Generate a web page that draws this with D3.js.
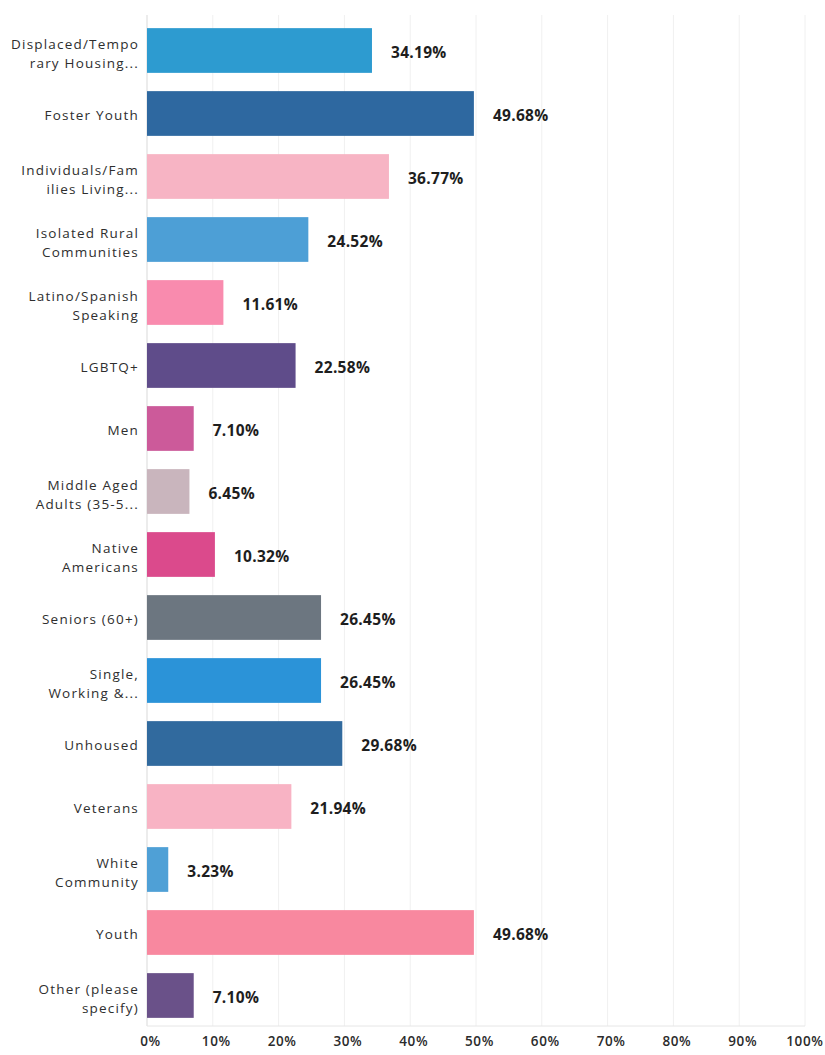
<!DOCTYPE html>
<html>
<head>
<meta charset="utf-8">
<script src="https://cdn.jsdelivr.net/npm/d3@7"></script>
<style>
  html, body { margin: 0; padding: 0; background: #fff; }
  svg { display: block; }
</style>
</head>
<body>
<svg id="chart" width="825" height="1055"></svg>
<script>
// Categories, as drawn on the axis (each entry is the list of lines shown)
const categories = [
  ["Displaced/Tempo", "rary Housing..."],
  ["Foster Youth"],
  ["Individuals/Fam", "ilies Living..."],
  ["Isolated Rural", "Communities"],
  ["Latino/Spanish", "Speaking"],
  ["LGBTQ+"],
  ["Men"],
  ["Middle Aged", "Adults (35-5..."],
  ["Native", "Americans"],
  ["Seniors (60+)"],
  ["Single,", "Working &..."],
  ["Unhoused"],
  ["Veterans"],
  ["White", "Community"],
  ["Youth"],
  ["Other (please", "specify)"]
];

// Share of responses, in percent
const values = [34.19, 49.68, 36.77, 24.52, 11.61, 22.58, 7.10, 6.45, 10.32,
                26.45, 26.45, 29.68, 21.94, 3.23, 49.68, 7.10];

const barColors = [
  "#2d9bd0", "#2e68a0", "#f7b4c4", "#4d9fd6", "#f98bae", "#5f4c8a",
  "#cc5a9a", "#c9b5bd", "#db4a8c", "#6c7680", "#2b93d8", "#316a9e",
  "#f8b3c4", "#4fa0d6", "#f8889f", "#6a5189"
];

const tickValues = [0, 10, 20, 30, 40, 50, 60, 70, 80, 90, 100];

const svg = d3.select("#chart");
const keys = categories.map(d => d.join(" "));

const x = d3.scaleLinear().domain([0, 100]).range([147, 805]);
const y = d3.scaleBand().domain(keys).range([19, 1027])
  .paddingInner(0.29).paddingOuter(0.145);

const plotTop = 15, plotBottom = 1026;

// Vertical gridlines
svg.append("g")
  .selectAll("line")
  .data(tickValues)
  .join("line")
  .attr("x1", d => x(d)).attr("x2", d => x(d))
  .attr("y1", plotTop).attr("y2", plotBottom)
  .attr("stroke", d => d === 0 ? "#d9d9d9" : "#f0f0f0")
  .attr("stroke-width", 1);

// Bottom axis line
svg.append("line")
  .attr("x1", x(0)).attr("x2", x(100))
  .attr("y1", plotBottom).attr("y2", plotBottom)
  .attr("stroke", "#e6e6e6");

// Tick labels
const xAxis = d3.axisBottom(x)
  .tickValues(tickValues)
  .tickFormat(d => d + "%")
  .tickSize(0)
  .tickPadding(0);

const axisG = svg.append("g")
  .attr("transform", `translate(3, 1041)`)
  .call(xAxis);
axisG.select(".domain").remove();
axisG.selectAll("text")
  .attr("dy", "0.35em")
  .attr("fill", "#2b2b2b")
  .style("font-family", "'Open Sans', sans-serif")
  .style("font-size", "13.5px")
  .style("font-weight", "600")
  .style("letter-spacing", "0.6px");
// keep the last label inside the right edge
axisG.selectAll(".tick")
  .filter(d => d === 100)
  .select("text")
  .attr("text-anchor", "end")
  .attr("x", 15);

const rows = keys.map((k, i) => ({ key: k, lines: categories[i], value: values[i], color: barColors[i] }));

// Bars
svg.append("g")
  .selectAll("rect")
  .data(rows)
  .join("rect")
  .attr("x", x(0))
  .attr("y", d => y(d.key))
  .attr("width", d => x(d.value) - x(0))
  .attr("height", y.bandwidth())
  .attr("fill", d => d.color);

// Value labels
svg.append("g")
  .selectAll("text")
  .data(rows)
  .join("text")
  .attr("x", d => x(d.value) + 19)
  .attr("y", d => y(d.key) + y.bandwidth() / 2 + 1.5)
  .attr("dominant-baseline", "central")
  .attr("fill", "#1e1e1e")
  .style("font-family", "'Open Sans', sans-serif")
  .style("font-size", "15.5px")
  .style("font-weight", "700")
  .style("letter-spacing", "0.3px")
  .text(d => d.value.toFixed(2) + "%");

// Category labels (one or two lines, right-aligned)
const catG = svg.append("g")
  .selectAll("text")
  .data(rows)
  .join("text")
  .attr("text-anchor", "end")
  .attr("fill", "#2e2e2e")
  .style("font-family", "'Open Sans', sans-serif")
  .style("font-size", "13.5px")
  .style("font-weight", "500")
  .style("letter-spacing", "1.2px");

catG.each(function(d) {
  const cy = y(d.key) + y.bandwidth() / 2;
  const n = d.lines.length;
  const lineH = 19;
  const first = cy + 1.5 - (n - 1) * lineH / 2 + (n > 1 ? 1.5 : 0);
  d3.select(this).selectAll("tspan")
    .data(d.lines)
    .join("tspan")
    .attr("x", 139)
    .attr("y", (l, j) => first + j * lineH)
    .attr("dominant-baseline", "central")
    .text(l => l);
});
</script>
</body>
</html>
